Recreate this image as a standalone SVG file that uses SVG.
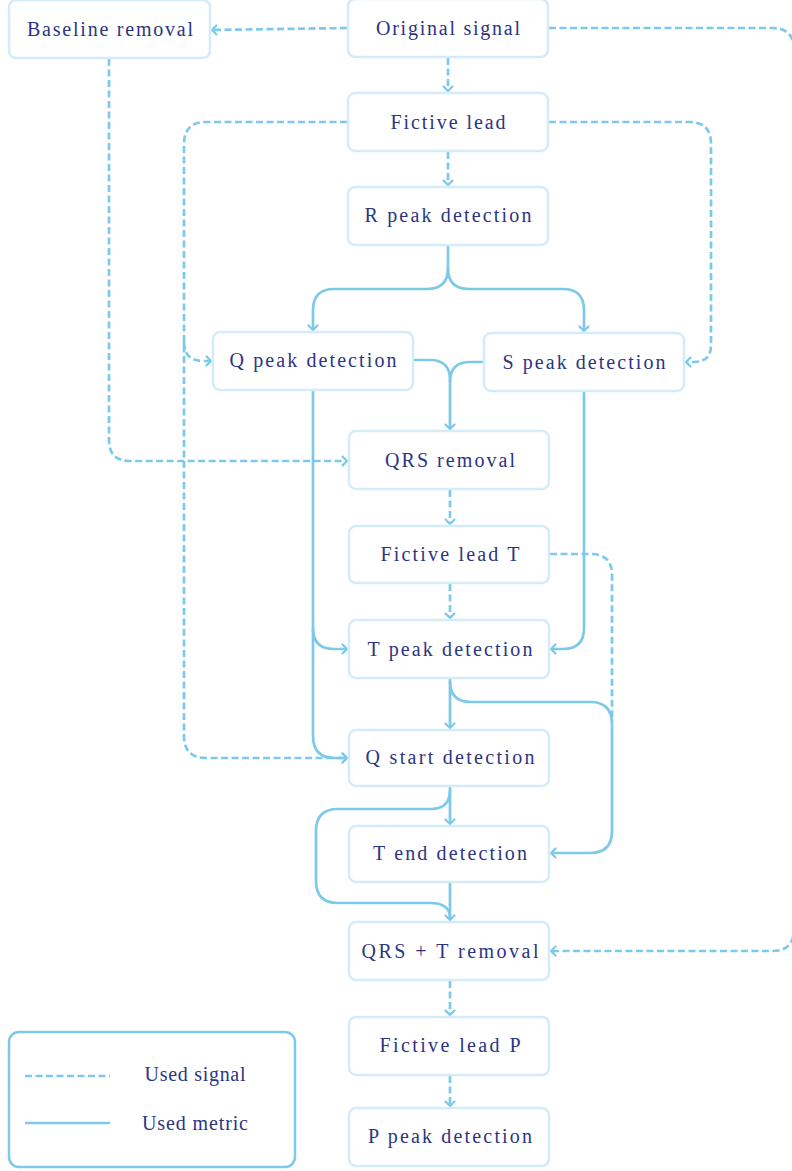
<svg xmlns="http://www.w3.org/2000/svg" width="792" height="1171" viewBox="0 0 792 1171">
<style>
.box{fill:#ffffff;stroke:#d4ebf8;stroke-width:2.5}
.lbl{font-family:"Liberation Serif","DejaVu Serif",serif;font-size:20px;fill:#2c3583;text-anchor:middle;dominant-baseline:central}
.c{fill:none;stroke:#7dc9e9;stroke-width:2.7}
.d{stroke-dasharray:7 3.5}
.m{marker-end:url(#ah)}
</style>
<defs>
<marker id="ah" viewBox="-7 -7 14 14" markerWidth="14" markerHeight="14" refX="0" refY="0" orient="auto" markerUnits="userSpaceOnUse">
<path d="M-4.5,-4.5 L0,0 L-4.5,4.5" fill="none" stroke="#7dc9e9" stroke-width="2.2" stroke-linecap="round" stroke-linejoin="round" stroke-dasharray="none"/>
</marker>
</defs>
<rect width="792" height="1171" fill="#ffffff"/>
<g id="connectors">
<path class="c d m" d="M347,28 L212,30"/>
<path class="c d m" d="M448,58 V91"/>
<path class="c d m" d="M549,28 H772 Q794,28 794,50 V929 Q794,951 772,951 H551"/>
<path class="c d m" d="M347,122 H206 Q184,122 184,144 V736 Q184,758 206,758 H347"/>
<path class="c d m" d="M184,342 Q184,361 203,361 H211"/>
<path class="c d m" d="M549,122 H689 Q711,122 711,144 V345 Q711,362 694,362 H686"/>
<path class="c d m" d="M448,152 V185"/>
<path class="c d m" d="M109,59 V440 Q109,461 130,461 H347"/>
<path class="c d m" d="M450,490 V524"/>
<path class="c d" d="M550,554 H591 Q612,554 612,575 V722"/>
<path class="c d m" d="M450,584 V618"/>
<path class="c d m" d="M450,981 V1015"/>
<path class="c d m" d="M450,1076 V1106"/>
<path class="c m" d="M448,246 V268 Q448,289 427,289 H334 Q313,289 313,310 V330"/>
<path class="c m" d="M448,268 Q448,289 469,289 H563 Q584,289 584,310 V331"/>
<path class="c m" d="M414,360 H430 Q450,360 450,380 V429"/>
<path class="c" d="M483,362 H470 Q450,362 450,382"/>
<path class="c m" d="M584,392 V628 Q584,649 563,649 H551"/>
<path class="c m" d="M313,391 V736 Q313,758 335,758 H347"/>
<path class="c m" d="M313,628 Q313,649 334,649 H347"/>
<path class="c m" d="M450,679 V728"/>
<path class="c m" d="M450,681 Q450,702 471,702 H590 Q612,702 612,724 V831 Q612,853 590,853 H551"/>
<path class="c m" d="M450,787 V824"/>
<path class="c" d="M450,790 Q450,809 431,809 H338 Q316,809 316,831 V881 Q316,903 338,903 H430 Q450,903 450,918"/>
<path class="c m" d="M450,883 V920"/>
</g>
<g id="n-baseline"><rect class="box" x="9" y="0" width="201" height="58" rx="7"/><text class="lbl" x="110" y="29" textLength="166" lengthAdjust="spacing">Baseline removal</text></g>
<g id="n-original"><rect class="box" x="348" y="-1" width="200" height="58" rx="7"/><text class="lbl" x="448" y="28" textLength="144" lengthAdjust="spacing">Original signal</text></g>
<g id="n-fictive"><rect class="box" x="348" y="93" width="200" height="58" rx="7"/><text class="lbl" x="448" y="122" textLength="115" lengthAdjust="spacing">Fictive lead</text></g>
<g id="n-rpeak"><rect class="box" x="348" y="187" width="200" height="58" rx="7"/><text class="lbl" x="448" y="215" textLength="167" lengthAdjust="spacing">R peak detection</text></g>
<g id="n-qpeak"><rect class="box" x="213" y="332" width="200" height="58" rx="7"/><text class="lbl" x="313" y="360" textLength="167" lengthAdjust="spacing">Q peak detection</text></g>
<g id="n-speak"><rect class="box" x="484" y="333" width="200" height="58" rx="7"/><text class="lbl" x="584" y="362" textLength="163" lengthAdjust="spacing">S peak detection</text></g>
<g id="n-qrsremoval"><rect class="box" x="349" y="431" width="200" height="58" rx="7"/><text class="lbl" x="450" y="460" textLength="130" lengthAdjust="spacing">QRS removal</text></g>
<g id="n-fictivet"><rect class="box" x="349" y="526" width="200" height="57" rx="7"/><text class="lbl" x="450" y="554" textLength="139" lengthAdjust="spacing">Fictive lead T</text></g>
<g id="n-tpeak"><rect class="box" x="349" y="620" width="200" height="58" rx="7"/><text class="lbl" x="450" y="649" textLength="165" lengthAdjust="spacing">T peak detection</text></g>
<g id="n-qstart"><rect class="box" x="349" y="730" width="200" height="56" rx="7"/><text class="lbl" x="450" y="757" textLength="169" lengthAdjust="spacing">Q start detection</text></g>
<g id="n-tend"><rect class="box" x="349" y="826" width="200" height="56" rx="7"/><text class="lbl" x="450" y="853" textLength="154" lengthAdjust="spacing">T end detection</text></g>
<g id="n-qrst"><rect class="box" x="349" y="922" width="200" height="58" rx="7"/><text class="lbl" x="450" y="951" textLength="177" lengthAdjust="spacing">QRS + T removal</text></g>
<g id="n-fictivep"><rect class="box" x="349" y="1017" width="200" height="58" rx="7"/><text class="lbl" x="450" y="1045" textLength="141" lengthAdjust="spacing">Fictive lead P</text></g>
<g id="n-ppeak"><rect class="box" x="349" y="1108" width="200" height="58" rx="7"/><text class="lbl" x="450" y="1136" textLength="164" lengthAdjust="spacing">P peak detection</text></g>
<g id="legend">
<rect x="9" y="1032" width="286" height="135" rx="10" fill="#ffffff" stroke="#7dc9e9" stroke-width="2.5"/>
<path class="c d" d="M25,1076 H110"/>
<path class="c" d="M25,1123 H110"/>
<text class="lbl" x="195" y="1074" textLength="101" lengthAdjust="spacing">Used signal</text>
<text class="lbl" x="195" y="1123" textLength="106" lengthAdjust="spacing">Used metric</text>
</g>
</svg>
